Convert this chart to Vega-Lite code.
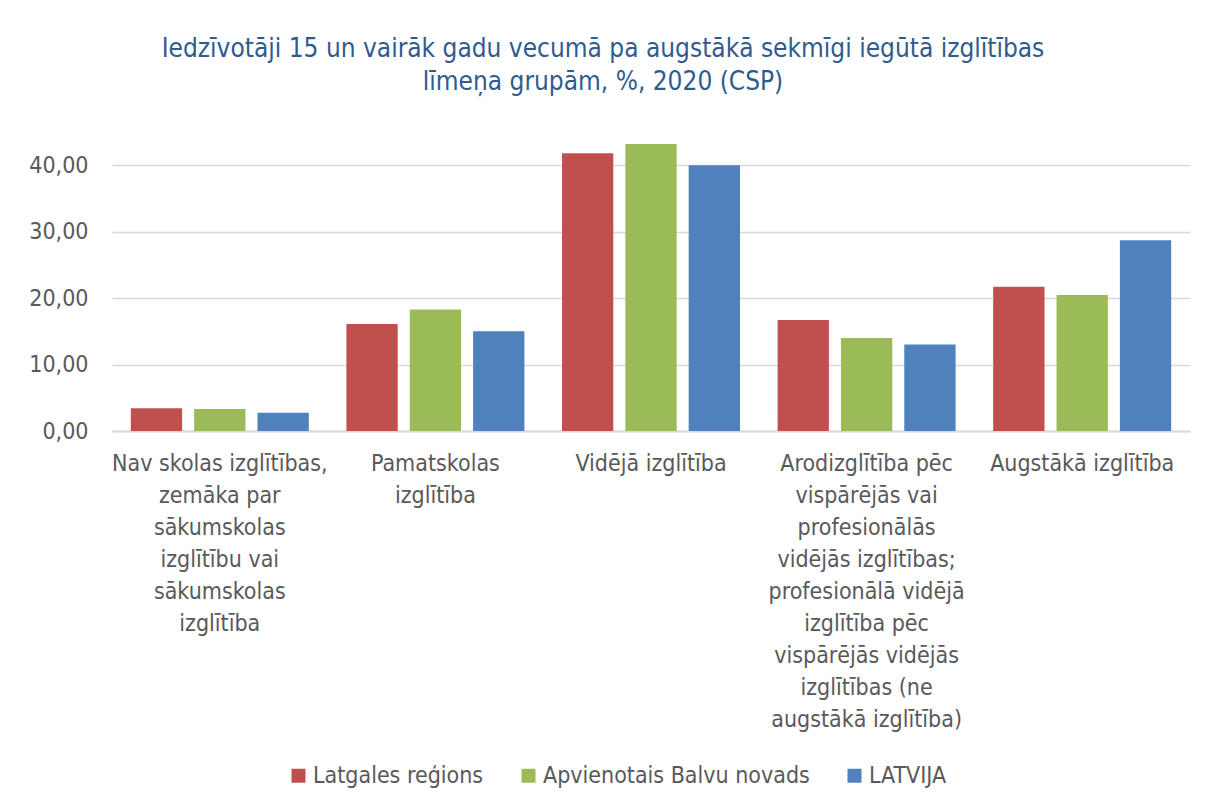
{
  "$schema": "https://vega.github.io/schema/vega-lite/v6.json",
  "autosize": {"type": "none"},
  "width": 1078,
  "height": 299,
  "padding": {"left": 112, "top": 132, "right": 16, "bottom": 378},
  "background": "white",
  "title": {
    "text": ["Iedzīvotāji 15 un vairāk gadu vecumā pa augstākā sekmīgi iegūtā izglītības", "līmeņa grupām, %, 2020 (CSP)"],
    "anchor": "middle",
    "dx": -48,
    "offset": 37,
    "font": "'DejaVu Sans Condensed', Roboto, sans-serif",
    "fontSize": 26,
    "fontWeight": "normal",
    "lineHeight": 33,
    "color": "#2F5B8F"
  },
  "config": {
    "view": {"stroke": null},
    "font": "'DejaVu Sans Condensed', Roboto, sans-serif"
  },
  "data": {
    "values": [
      {"cat": "Nav skolas izglītības, zemāka par sākumskolas izglītību vai sākumskolas izglītība", "series": "Latgales reģions", "value": 3.41},
      {"cat": "Nav skolas izglītības, zemāka par sākumskolas izglītību vai sākumskolas izglītība", "series": "Apvienotais Balvu novads", "value": 3.3},
      {"cat": "Nav skolas izglītības, zemāka par sākumskolas izglītību vai sākumskolas izglītība", "series": "LATVIJA", "value": 2.76},
      {"cat": "Pamatskolas izglītība", "series": "Latgales reģions", "value": 16.1},
      {"cat": "Pamatskolas izglītība", "series": "Apvienotais Balvu novads", "value": 18.3},
      {"cat": "Pamatskolas izglītība", "series": "LATVIJA", "value": 15.0},
      {"cat": "Vidējā izglītība", "series": "Latgales reģions", "value": 41.8},
      {"cat": "Vidējā izglītība", "series": "Apvienotais Balvu novads", "value": 43.2},
      {"cat": "Vidējā izglītība", "series": "LATVIJA", "value": 40.0},
      {"cat": "Arodizglītība pēc vispārējās vai profesionālās vidējās izglītības; profesionālā vidējā izglītība pēc vispārējās vidējās izglītības (ne augstākā izglītība)", "series": "Latgales reģions", "value": 16.7},
      {"cat": "Arodizglītība pēc vispārējās vai profesionālās vidējās izglītības; profesionālā vidējā izglītība pēc vispārējās vidējās izglītības (ne augstākā izglītība)", "series": "Apvienotais Balvu novads", "value": 14.0},
      {"cat": "Arodizglītība pēc vispārējās vai profesionālās vidējās izglītības; profesionālā vidējā izglītība pēc vispārējās vidējās izglītības (ne augstākā izglītība)", "series": "LATVIJA", "value": 13.0},
      {"cat": "Augstākā izglītība", "series": "Latgales reģions", "value": 21.7},
      {"cat": "Augstākā izglītība", "series": "Apvienotais Balvu novads", "value": 20.45},
      {"cat": "Augstākā izglītība", "series": "LATVIJA", "value": 28.7}
    ]
  },
  "mark": {"type": "bar"},
  "encoding": {
    "x": {
      "field": "cat",
      "type": "nominal",
      "sort": null,
      "scale": {"paddingInner": 0.1744, "paddingOuter": 0.0872},
      "axis": {
        "title": null,
        "labelAngle": 0,
        "labelFontSize": 23,
        "labelColor": "#595959",
        "labelLineHeight": 32,
        "labelPadding": 21,
        "labelBaseline": "top",
        "ticks": false,
        "domain": true,
        "domainColor": "#D9D9D9",
        "domainWidth": 2,
        "labelLimit": 400,
        "labelExpr": "datum.value == 'Nav skolas izglītības, zemāka par sākumskolas izglītību vai sākumskolas izglītība' ? ['Nav skolas izglītības,', 'zemāka par', 'sākumskolas', 'izglītību vai', 'sākumskolas', 'izglītība'] : datum.value == 'Pamatskolas izglītība' ? ['Pamatskolas', 'izglītība'] : datum.value == 'Augstākā izglītība' ? 'Augstākā izglītība' : datum.value == 'Vidējā izglītība' ? 'Vidējā izglītība' : ['Arodizglītība pēc', 'vispārējās vai', 'profesionālās', 'vidējās izglītības;', 'profesionālā vidējā', 'izglītība pēc', 'vispārējās vidējās', 'izglītības (ne', 'augstākā izglītība)']"
      }
    },
    "xOffset": {
      "field": "series",
      "type": "nominal",
      "sort": ["Latgales reģions", "Apvienotais Balvu novads", "LATVIJA"],
      "scale": {"paddingInner": 0.19, "paddingOuter": 0}
    },
    "y": {
      "field": "value",
      "type": "quantitative",
      "scale": {"domain": [0, 45], "nice": false},
      "axis": {
        "title": null,
        "values": [0, 10, 20, 30, 40],
        "labelExpr": "replace(format(datum.value, '.2f'), '.', ',')",
        "labelFontSize": 23,
        "labelColor": "#595959",
        "labelPadding": 24,
        "ticks": false,
        "domain": false,
        "gridColor": "#D9D9D9",
        "gridWidth": 1.5
      }
    },
    "color": {
      "field": "series",
      "type": "nominal",
      "sort": ["Latgales reģions", "Apvienotais Balvu novads", "LATVIJA"],
      "scale": {"domain": ["Latgales reģions", "Apvienotais Balvu novads", "LATVIJA"], "range": ["#C0504D", "#9BBB59", "#4F81BD"]},
      "legend": {
        "title": null,
        "orient": "none",
        "direction": "horizontal",
        "legendX": 175,
        "legendY": 632,
        "symbolType": "square",
        "symbolSize": 196,
        "symbolStrokeWidth": 0,
        "labelFontSize": 23,
        "labelColor": "#595959",
        "labelOffset": 3,
        "columnPadding": 33,
        "labelLimit": 400
      }
    }
  }
}
